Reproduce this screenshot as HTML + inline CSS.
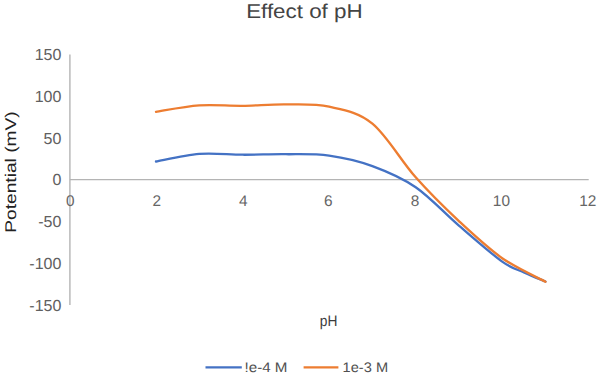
<!DOCTYPE html>
<html><head><meta charset="utf-8">
<style>
html,body{margin:0;padding:0;background:#fff;}
body{width:597px;height:374px;overflow:hidden;font-family:"Liberation Sans",sans-serif;}
svg{display:block;}
text{font-family:"Liberation Sans",sans-serif;text-rendering:geometricPrecision;}
</style></head><body>
<svg width="597" height="374" viewBox="0 0 597 374" xmlns="http://www.w3.org/2000/svg">
<rect width="597" height="374" fill="#fff"/>
<!-- title -->
<text x="304.4" y="17.7" font-size="19.9" fill="#444" text-anchor="middle" textLength="116.5" lengthAdjust="spacingAndGlyphs">Effect of pH</text>
<!-- axes -->
<line x1="69.9" y1="54.4" x2="69.9" y2="305" stroke="#b4b4b4" stroke-width="1.4"/>
<line x1="69.9" y1="179.6" x2="588.7" y2="179.6" stroke="#b4b4b4" stroke-width="1.3"/>
<!-- y ticks -->
<g font-size="16" fill="#606060" text-anchor="end">
<text x="61.4" y="59.6">150</text>
<text x="61.4" y="101.8">100</text>
<text x="61.4" y="143.6">50</text>
<text x="61.4" y="185.1">0</text>
<text x="61.4" y="227.3">-50</text>
<text x="61.4" y="269.4">-100</text>
<text x="61.4" y="311.1">-150</text>
</g>
<!-- x ticks -->
<g font-size="15.4" fill="#666" text-anchor="middle" transform="translate(0,-0.5)">
<text x="70.3" y="206">0</text>
<text x="156.8" y="206">2</text>
<text x="243.3" y="206">4</text>
<text x="328.4" y="206">6</text>
<text x="415" y="206">8</text>
<text x="501.4" y="206">10</text>
<text x="587.7" y="206">12</text>
</g>
<!-- axis titles -->
<text transform="translate(15.9,232.8) rotate(-90)" font-size="15.5" fill="#222" textLength="121.5" lengthAdjust="spacingAndGlyphs">Potential (mV)</text>
<text x="328.6" y="325.7" font-size="15.2" fill="#3c3c3c" text-anchor="middle" textLength="17.6" lengthAdjust="spacingAndGlyphs">pH</text>
<!-- curves -->
<path id="blue" fill="none" stroke="#4472c4" stroke-width="2.35" stroke-linecap="round" stroke-linejoin="round"
 d="M156.0,161.5 C163.3,160.2 184.9,155.0 199.3,153.9 C213.7,152.8 228.2,154.6 242.6,154.7 C257.0,154.8 271.4,154.0 285.9,154.2 C300.3,154.3 314.7,153.6 329.1,155.6 C343.5,157.6 358.0,160.8 372.4,166.1 C386.8,171.4 401.2,177.3 415.7,187.2 C430.1,197.1 444.5,213.2 458.9,225.6 C473.4,238.0 491.3,253.8 502.2,261.6 C513.1,269.4 517.3,269.3 524.5,272.6 C531.7,275.9 541.9,280.0 545.4,281.5"/>
<path id="orange" fill="none" stroke="#ed7d31" stroke-width="2.35" stroke-linecap="round" stroke-linejoin="round"
 d="M156.0,111.8 C163.3,110.7 184.9,106.4 199.3,105.4 C213.7,104.4 228.2,106.0 242.6,105.8 C257.0,105.6 271.4,104.2 285.9,104.4 C300.3,104.6 314.7,103.5 329.1,106.7 C343.5,109.9 358.0,111.8 372.4,123.6 C386.8,135.4 401.2,161.1 415.7,177.3 C430.1,193.6 444.5,207.6 458.9,221.1 C473.4,234.6 487.8,248.1 502.2,258.2 C516.6,268.3 538.3,277.8 545.5,281.7"/>
<!-- legend -->
<line x1="205.5" y1="367.4" x2="241.8" y2="367.4" stroke="#4472c4" stroke-width="2.3"/>
<text x="244.5" y="372.2" font-size="13.8" fill="#505050" textLength="43" lengthAdjust="spacingAndGlyphs">!e-4 M</text>
<line x1="303.6" y1="367.4" x2="338.4" y2="367.4" stroke="#ed7d31" stroke-width="2.3"/>
<text x="342.6" y="372.2" font-size="13.8" fill="#505050" textLength="45.5" lengthAdjust="spacingAndGlyphs">1e-3 M</text>
</svg>
</body></html>
